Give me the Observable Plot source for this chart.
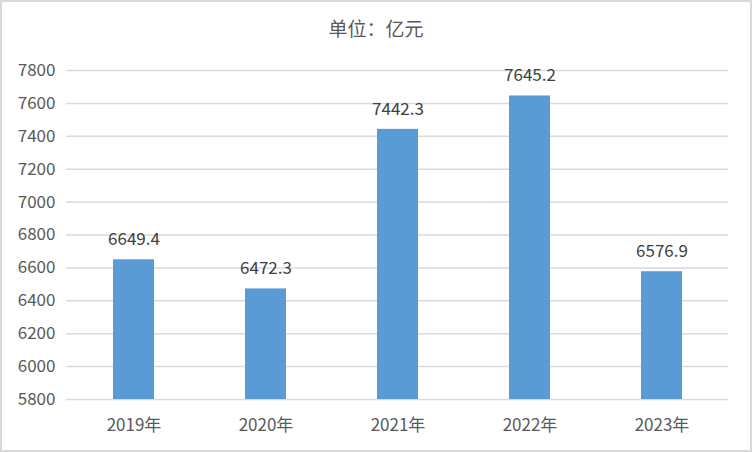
<!DOCTYPE html>
<html>
<head>
<meta charset="utf-8">
<script src="https://cdn.jsdelivr.net/npm/d3@7"></script>
<script src="https://cdn.jsdelivr.net/npm/@observablehq/plot@0.6"></script>
<style>
  html, body { margin: 0; padding: 0; background: #fff; }
  #chart {
    position: relative; width: 752px; height: 452px; box-sizing: border-box;
    border: 2px solid #d9d9d9; overflow: hidden; background: #fff;
    font-family: "Noto Sans CJK SC", "Noto Sans", sans-serif;
  }
  #title {
    height: 52px; line-height: 52px; text-align: center;
    font-size: 19px; color: #595959;
  }
  #chart svg { display: block; }
</style>
</head>
<body>
<div id="chart">
  <div id="title">单位：亿元</div>
</div>
<script>
const years = ["2019年", "2020年", "2021年", "2022年", "2023年"];
const values = [6649.4, 6472.3, 7442.3, 7645.2, 6576.9];
const yTicks = [5800, 6000, 6200, 6400, 6600, 6800, 7000, 7200, 7400, 7600, 7800];

const data = years.map((y, i) => ({year: y, value: values[i]}));

const plot = Plot.plot({
  width: 748,
  height: 396,
  marginTop: 16,
  marginBottom: 51,
  marginLeft: 64,
  marginRight: 22,
  style: {fontFamily: '"Noto Sans CJK SC", "Noto Sans", sans-serif', fontSize: "17px", color: "#595959", background: "#fff"},
  x: {domain: years, paddingInner: 0.69, paddingOuter: 0.345, label: null},
  y: {domain: [5800, 7800], label: null},
  marks: [
    Plot.gridY(yTicks, {stroke: "#d9d9d9", strokeOpacity: 1, strokeWidth: 1.5}),
    Plot.barY(data, {x: "year", y1: 5800, y2: "value", fill: "#5b9bd5"}),
    Plot.text(data, {x: "year", y: "value", text: d => d.value.toFixed(1), dy: -20, lineAnchor: "middle", fill: "#404040", fontSize: 17}),
    Plot.axisY(yTicks, {tickSize: 0, tickPadding: 11, tickFormat: d3.format("d"), label: null, fill: "#595959", fontSize: 17}),
    Plot.axisX({tickSize: 0, tickPadding: 19, label: null, fill: "#595959", fontSize: 17})
  ]
});
document.getElementById("chart").appendChild(plot);
</script>
</body>
</html>
